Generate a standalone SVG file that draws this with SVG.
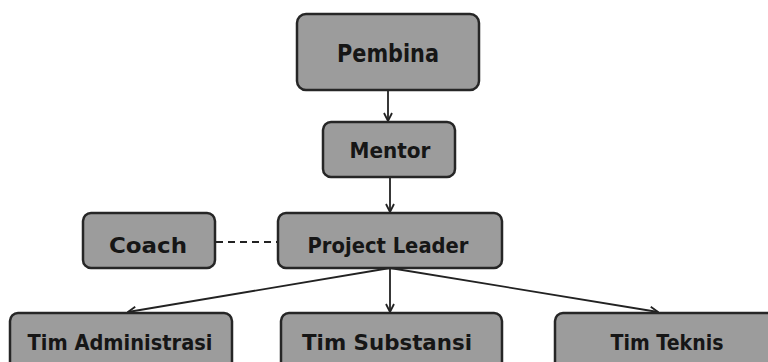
<svg xmlns="http://www.w3.org/2000/svg" width="768" height="362" viewBox="0 0 768 362">
<style>
.box{fill:#9c9c9c;stroke:#262626;stroke-width:2.5}
.lbl{font-family:"DejaVu Sans",sans-serif;font-weight:bold;font-size:22px;fill:#161616;text-anchor:middle}
.conn{stroke:#222222;stroke-width:1.8;fill:none}
</style>
<defs>
<marker id="arr" viewBox="0 0 10 10" refX="9" refY="5" markerWidth="10" markerHeight="10" markerUnits="userSpaceOnUse" orient="auto">
<path d="M1,1 L9,5 L1,9" fill="none" stroke="#222222" stroke-width="1.8"/>
</marker>
</defs>
<rect width="768" height="362" fill="#ffffff"/>
<g id="connectors">
<line class="conn" x1="388" y1="90" x2="388" y2="121" marker-end="url(#arr)"/>
<line class="conn" x1="390" y1="177" x2="390" y2="212" marker-end="url(#arr)"/>
<line class="conn" x1="216" y1="242" x2="277" y2="242" stroke-dasharray="7,5"/>
<line class="conn" x1="390" y1="268" x2="128" y2="312" marker-end="url(#arr)"/>
<line class="conn" x1="390" y1="268" x2="390" y2="312" marker-end="url(#arr)"/>
<line class="conn" x1="390" y1="268" x2="658" y2="312" marker-end="url(#arr)"/>
</g>
<g id="pembina">
<rect class="box" x="297" y="14" width="182" height="76" rx="9"/>
<text class="lbl" x="388" y="62" style="font-size:25px" textLength="102" lengthAdjust="spacingAndGlyphs">Pembina</text>
</g>
<g id="mentor">
<rect class="box" x="323" y="122" width="132" height="55" rx="8"/>
<text class="lbl" x="390" y="158" textLength="81" lengthAdjust="spacingAndGlyphs">Mentor</text>
</g>
<g id="coach">
<rect class="box" x="83" y="213" width="132" height="55" rx="8"/>
<text class="lbl" x="148" y="253" textLength="78" lengthAdjust="spacingAndGlyphs">Coach</text>
</g>
<g id="project-leader">
<rect class="box" x="278" y="213" width="224" height="55" rx="8"/>
<text class="lbl" x="388" y="253" textLength="161" lengthAdjust="spacingAndGlyphs">Project Leader</text>
</g>
<g id="tim-administrasi">
<rect class="box" x="10" y="313" width="222" height="62" rx="8"/>
<text class="lbl" x="120" y="350" textLength="185" lengthAdjust="spacingAndGlyphs">Tim Administrasi</text>
</g>
<g id="tim-substansi">
<rect class="box" x="281" y="313" width="221" height="62" rx="8"/>
<text class="lbl" x="387" y="350" textLength="170" lengthAdjust="spacingAndGlyphs">Tim Substansi</text>
</g>
<g id="tim-teknis">
<rect class="box" x="555" y="313" width="230" height="62" rx="8"/>
<text class="lbl" x="667" y="350" textLength="113" lengthAdjust="spacingAndGlyphs">Tim Teknis</text>
</g>
</svg>
